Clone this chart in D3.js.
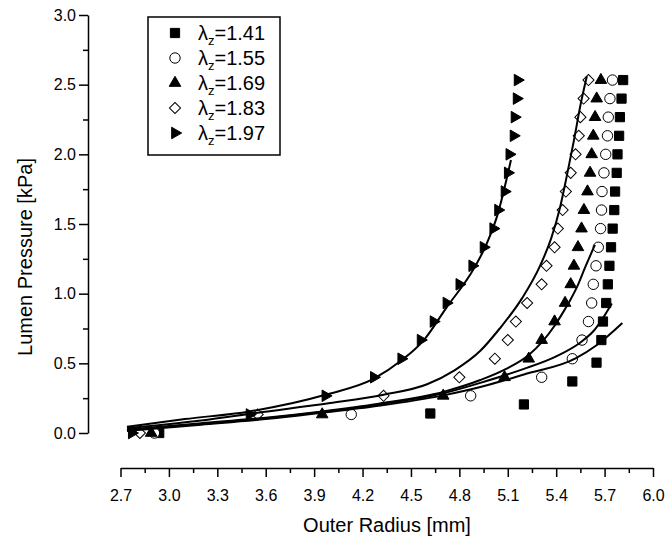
<!DOCTYPE html>
<html lang="en">
<head>
<meta charset="UTF-8" />
<title>Lumen Pressure vs Outer Radius</title>
<style>
  html, body { margin: 0; padding: 0; background: #fff; }
  svg { display: block; font-family: "Liberation Sans", Arial, sans-serif; }
  .axis path, .axis line { stroke: #000; stroke-width: 1.5; }
  .axis text { font-size: 16px; fill: #000; font-family: "Liberation Sans", Arial, sans-serif; }
</style>
</head>
<body>
<svg id="chart" width="666" height="547"></svg>
<script src="https://d3js.org/d3.v7.min.js"></script>
<script>
// measured points: outer radius [mm] at each pressure step [kPa]
const pressure = [0, 0.133, 0.267, 0.4, 0.533, 0.667, 0.8, 0.933, 1.067, 1.2,
                  1.333, 1.467, 1.6, 1.733, 1.867, 2.0, 2.133, 2.267, 2.4, 2.533];
const pressure141 = [0, 0.14, 0.205, 0.37, 0.505, 0.667, 0.8, 0.933, 1.067, 1.2,
                     1.333, 1.467, 1.6, 1.733, 1.867, 2.0, 2.133, 2.267, 2.4, 2.533];

const radius141 = [2.94, 4.62, 5.20, 5.50, 5.65, 5.68, 5.69, 5.71, 5.72, 5.73,
                   5.74, 5.75, 5.76, 5.765, 5.775, 5.78, 5.79, 5.795, 5.805, 5.815];
const radius155 = [2.91, 4.13, 4.87, 5.31, 5.50, 5.56, 5.60, 5.62, 5.63, 5.647,
                   5.661, 5.675, 5.681, 5.684, 5.696, 5.707, 5.718, 5.723, 5.733, 5.749];
const radius169 = [2.89, 3.95, 4.70, 5.08, 5.23, 5.31, 5.39, 5.455, 5.49, 5.51,
                   5.535, 5.557, 5.572, 5.594, 5.61, 5.62, 5.63, 5.641, 5.651, 5.677];
const radius183 = [2.82, 3.55, 4.33, 4.80, 5.02, 5.10, 5.15, 5.22, 5.31, 5.34,
                   5.39, 5.41, 5.44, 5.46, 5.49, 5.52, 5.54, 5.55, 5.57, 5.60];
const radius197 = [2.77, 3.50, 3.97, 4.27, 4.44, 4.56, 4.64, 4.72, 4.80, 4.88,
                   4.95, 5.01, 5.04, 5.08, 5.10, 5.11, 5.136, 5.142, 5.155, 5.161];

// fitted curves
const fit141X = [2.74, 3.20, 3.60, 3.95, 4.30, 4.70, 4.93, 5.20, 5.52, 5.65, 5.81];
const fit141Y = [0.015, 0.06, 0.10, 0.145, 0.195, 0.27, 0.33, 0.42, 0.535, 0.63, 0.79];
const fit155X = [2.74, 3.20, 3.60, 3.95, 4.30, 4.70, 4.93, 5.20, 5.40, 5.55, 5.63, 5.745];
const fit155Y = [0.02, 0.065, 0.105, 0.15, 0.205, 0.285, 0.36, 0.46, 0.55, 0.65, 0.73, 0.93];
const fit169X = [2.74, 3.20, 3.60, 3.95, 4.30, 4.70, 4.93, 5.09, 5.23, 5.31, 5.39, 5.45, 5.49, 5.53, 5.58, 5.64];
const fit169Y = [0.025, 0.07, 0.11, 0.155, 0.21, 0.295, 0.38, 0.46, 0.56, 0.65, 0.77, 0.88, 0.96, 1.05, 1.19, 1.35];
const fit183X = [2.74, 3.20, 3.55, 4.00, 4.33, 4.60, 4.77, 4.93, 5.05, 5.19, 5.30, 5.37, 5.42, 5.465, 5.51, 5.55, 5.59];
const fit183Y = [0.035, 0.09, 0.146, 0.215, 0.275, 0.35, 0.45, 0.59, 0.75, 0.97, 1.20, 1.40, 1.60, 1.84, 2.10, 2.35, 2.56];
const fit197X = [2.74, 3.10, 3.50, 3.97, 4.27, 4.44, 4.58, 4.72, 4.89, 4.97, 5.04, 5.08, 5.12];
const fit197Y = [0.045, 0.10, 0.155, 0.274, 0.39, 0.52, 0.667, 0.90, 1.18, 1.36, 1.58, 1.76, 1.96];

const seriesLabels = ["1.41", "1.55", "1.69", "1.83", "1.97"];
const xTicks = [2.7, 3.0, 3.3, 3.6, 3.9, 4.2, 4.5, 4.8, 5.1, 5.4, 5.7, 6.0];
const yTicks = [0, 0.5, 1.0, 1.5, 2.0, 2.5, 3.0];

const svg = d3.select("#chart");

const x = d3.scaleLinear().domain([2.7, 6.0]).range([120.5, 653]);
const y = d3.scaleLinear().domain([0, 3.0]).range([433, 15]);

// minor ticks sit halfway between the labelled ones
const xMinor = xTicks.slice(1).map((t, i) => (t + xTicks[i]) / 2);
const yMinor = yTicks.slice(1).map((t, i) => (t + yTicks[i]) / 2);

// x axis (offset below the data)
const xAxis = svg.append("g").attr("class", "axis").attr("transform", "translate(0,468)");
xAxis.call(d3.axisBottom(x).tickValues(xTicks).tickFormat(d3.format(".1f"))
  .tickSize(9).tickSizeOuter(0).tickPadding(13));
svg.append("g").attr("class", "axis").attr("transform", "translate(0,468)")
  .call(d3.axisBottom(x).tickValues(xMinor).tickFormat("").tickSize(5).tickSizeOuter(0))
  .select(".domain").remove();

// y axis
const yAxis = svg.append("g").attr("class", "axis").attr("transform", "translate(88,0)");
yAxis.call(d3.axisLeft(y).tickValues(yTicks).tickFormat(d3.format(".1f"))
  .tickSize(9).tickSizeOuter(0).tickPadding(3));
svg.append("g").attr("class", "axis").attr("transform", "translate(88,0)")
  .call(d3.axisLeft(y).tickValues(yMinor).tickFormat("").tickSize(5).tickSizeOuter(0))
  .select(".domain").remove();

// axis titles
svg.append("text")
  .attr("x", 387).attr("y", 532)
  .attr("text-anchor", "middle")
  .style("font-size", "20px")
  .text("Outer Radius [mm]");

svg.append("text")
  .attr("transform", "translate(32,257) rotate(-90)")
  .attr("text-anchor", "middle")
  .style("font-size", "20px")
  .text("Lumen Pressure [kPa]");

// marker styles per series
const markers = [
  { type: d3.symbolSquare, size: 85, fill: "#000", rotate: 0 },
  { type: d3.symbolCircle, size: 85, fill: "#fff", rotate: 0 },
  { type: d3.symbolTriangle, size: 58, fill: "#000", rotate: 0 },
  { type: d3.symbolSquare, size: 62, fill: "#fff", rotate: 45 },
  { type: d3.symbolTriangle, size: 58, fill: "#000", rotate: 90 }
];

const points = [
  d3.zip(radius141, pressure141),
  d3.zip(radius155, pressure),
  d3.zip(radius169, pressure),
  d3.zip(radius183, pressure),
  d3.zip(radius197, pressure)
];

const fits = [
  d3.zip(fit141X, fit141Y),
  d3.zip(fit155X, fit155Y),
  d3.zip(fit169X, fit169Y),
  d3.zip(fit183X, fit183Y),
  d3.zip(fit197X, fit197Y)
];

points.forEach((pts, i) => {
  const m = markers[i];
  svg.append("g").selectAll("path")
    .data(pts)
    .join("path")
    .attr("transform", d => `translate(${x(d[0])},${y(d[1])}) rotate(${m.rotate})`)
    .attr("d", d3.symbol(m.type, m.size))
    .attr("fill", m.fill)
    .attr("stroke", "#000")
    .attr("stroke-width", 1);
});

const line = d3.line()
  .x(d => x(d[0]))
  .y(d => y(d[1]))
  .curve(d3.curveMonotoneX);

fits.forEach(f => {
  svg.append("path")
    .datum(f)
    .attr("d", line)
    .attr("fill", "none")
    .attr("stroke", "#000")
    .attr("stroke-width", 2);
});

// legend
const legend = svg.append("g");
legend.append("rect")
  .attr("x", 148).attr("y", 17)
  .attr("width", 132).attr("height", 138)
  .attr("fill", "#fff")
  .attr("stroke", "#000")
  .attr("stroke-width", 1.5);

seriesLabels.forEach((lab, i) => {
  const m = markers[i];
  const cy = 33 + i * 25;
  legend.append("path")
    .attr("transform", `translate(175,${cy}) rotate(${m.rotate})`)
    .attr("d", d3.symbol(m.type, m.size))
    .attr("fill", m.fill)
    .attr("stroke", "#000")
    .attr("stroke-width", 1);
  const t = legend.append("text")
    .attr("x", 198).attr("y", cy + 7)
    .style("font-size", "20px");
  t.append("tspan").text("λ");
  t.append("tspan").attr("dy", 5).style("font-size", "13px").text("z");
  t.append("tspan").attr("dy", -5).text("=" + lab);
});
</script>
</body>
</html>
